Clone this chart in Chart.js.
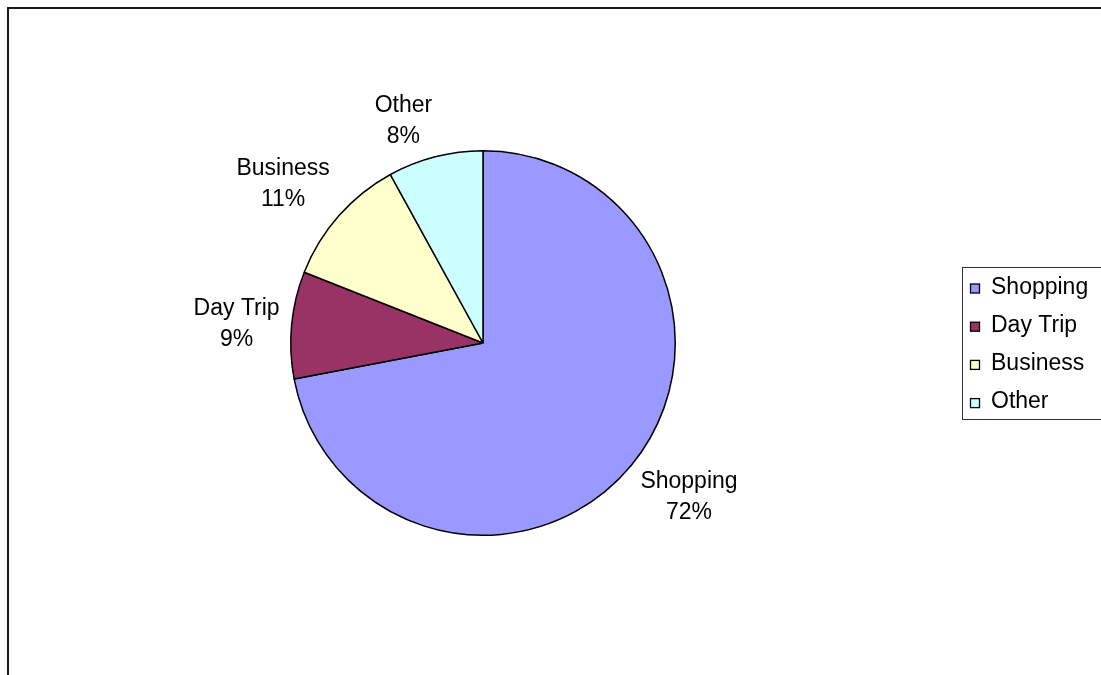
<!DOCTYPE html>
<html>
<head>
<meta charset="utf-8">
<title>Trip Purpose</title>
<script src="https://cdn.jsdelivr.net/npm/chart.js@4.4.1/dist/chart.umd.min.js"></script>
<style>
  html, body { margin: 0; padding: 0; background: #fff; }
  canvas { display: block; }
</style>
</head>
<body>
<canvas id="purposeChart" width="1101" height="675"></canvas>
<script>
// Share of trips by purpose, in percent
const purposeLabels = ['Shopping', 'Day Trip', 'Business', 'Other'];
const purposeShares = [72, 9, 11, 8];
const sliceColors = ['#9999FF', '#993366', '#FFFFCC', '#CCFFFF'];

const LABEL_FONT = '23px "Liberation Sans", Arial, sans-serif';

// Outer frame around the whole chart
const chartFrame = {
    id: 'chartFrame',
    beforeDraw(chart) {
        const ctx = chart.ctx;
        ctx.save();
        ctx.fillStyle = '#fff';
        ctx.fillRect(0, 0, chart.width, chart.height);
        ctx.strokeStyle = '#1a1a1a';
        ctx.lineWidth = 2;
        ctx.strokeRect(8, 8, chart.width + 20, chart.height + 20);
        ctx.restore();
    }
};

// Category name + percentage placed just outside each slice
const sliceLabels = {
    id: 'sliceLabels',
    afterDatasetsDraw(chart) {
        const ctx = chart.ctx;
        const values = chart.data.datasets[0].data;
        const total = values.reduce((a, b) => a + b, 0);
        const meta = chart.getDatasetMeta(0);
        ctx.save();
        ctx.font = LABEL_FONT;
        ctx.fillStyle = '#000';
        ctx.textAlign = 'center';
        ctx.textBaseline = 'middle';
        meta.data.forEach((arc, i) => {
            const p = arc.getProps(['x', 'y', 'startAngle', 'endAngle', 'outerRadius'], true);
            const mid = (p.startAngle + p.endAngle) / 2;
            const cos = Math.cos(mid), sin = Math.sin(mid);
            const ax = p.x + (p.outerRadius + 12) * cos;
            const ay = p.y + (p.outerRadius + 12) * sin;
            const name = chart.data.labels[i];
            const pct = Math.round(values[i] / total * 100) + '%';
            const w = Math.max(ctx.measureText(name).width, ctx.measureText(pct).width);
            const h = 48;
            const sx = Math.abs(cos) < 0.15 ? 0 : Math.sign(cos);
            const sy = Math.abs(sin) < 0.15 ? 0 : Math.sign(sin);
            const cx = ax + sx * w / 2;
            const cy = ay + sy * h / 2;
            ctx.fillText(name, cx, cy - 15.5);
            ctx.fillText(pct, cx, cy + 15.5);
        });
        ctx.restore();
    }
};

// Boxed legend on the right
const boxLegend = {
    id: 'boxLegend',
    afterDraw(chart) {
        const ctx = chart.ctx;
        const colors = chart.data.datasets[0].backgroundColor;
        ctx.save();
        ctx.strokeStyle = '#333';
        ctx.lineWidth = 1;
        ctx.strokeRect(962.5, 267.5, 200, 152);
        ctx.font = LABEL_FONT;
        ctx.textAlign = 'left';
        ctx.textBaseline = 'middle';
        chart.data.labels.forEach((label, i) => {
            const y = 288.5 + i * 38.2;
            ctx.fillStyle = colors[i];
            ctx.fillRect(970.5, y - 4.5, 9, 9);
            ctx.strokeStyle = '#000';
            ctx.lineWidth = 1.3;
            ctx.strokeRect(970.5, y - 4.5, 9, 9);
            ctx.fillStyle = '#000';
            ctx.fillText(label, 991, y - 1);
        });
        ctx.restore();
    }
};

new Chart(document.getElementById('purposeChart'), {
    type: 'pie',
    data: {
        labels: purposeLabels,
        datasets: [{
            data: purposeShares,
            backgroundColor: sliceColors,
            borderColor: '#000',
            borderWidth: 1.5
        }]
    },
    options: {
        responsive: false,
        animation: false,
        devicePixelRatio: 1,
        layout: {
            padding: { left: 290, right: 425, top: 150, bottom: 139 }
        },
        plugins: {
            legend: { display: false },
            tooltip: { enabled: false }
        }
    },
    plugins: [chartFrame, sliceLabels, boxLegend]
});
</script>
</body>
</html>
